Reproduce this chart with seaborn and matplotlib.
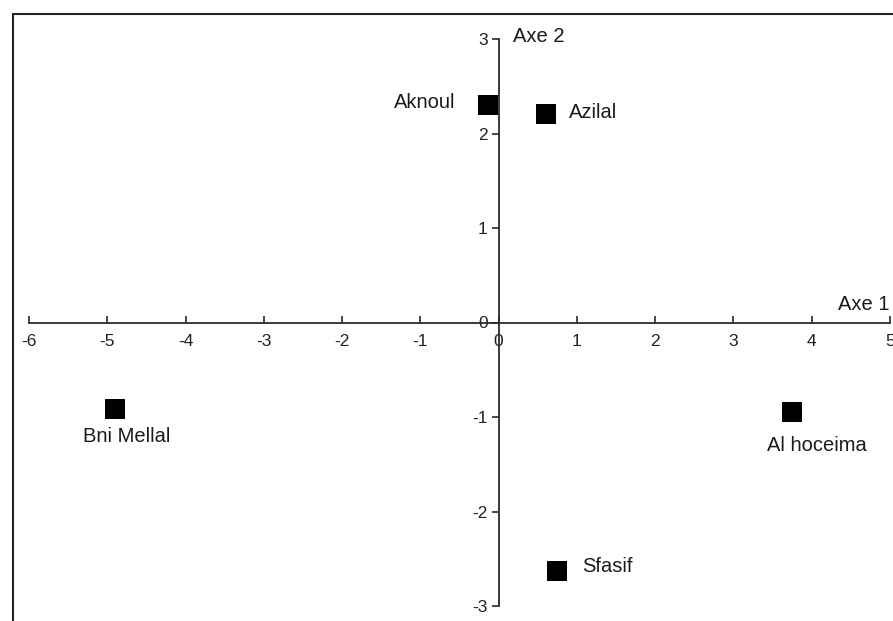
import matplotlib
matplotlib.use("Agg")
import matplotlib.pyplot as plt
from matplotlib.lines import Line2D
import pandas as pd
import seaborn as sns

# factor scores
sites = ['Aknoul', 'Azilal', 'Bni Mellal', 'Al hoceima', 'Sfasif']
axe1 = [-0.14, 0.61, -4.90, 3.75, 0.75]
axe2 = [2.30, 2.21, -0.92, -0.95, -2.63]
x_ticks = [-6, -5, -4, -3, -2, -1, 0, 1, 2, 3, 4, 5]
y_ticks = [-3, -2, -1, 0, 1, 2, 3]

df = pd.DataFrame({'site': sites, 'axe1': axe1, 'axe2': axe2})

sns.set_style('white')
plt.rcParams['font.family'] = ['Liberation Sans', 'DejaVu Sans']
plt.rcParams['axes.unicode_minus'] = False

fig = plt.figure(figsize=(8.93, 6.21), dpi=100)
ax = fig.add_axes([29 / 893, 15 / 621, (890 - 29) / 893, (606 - 39) / 621])

sns.scatterplot(data=df, x='axe1', y='axe2', marker='s', s=210,
                color='black', edgecolor='black', linewidth=0, ax=ax, zorder=3)

ax.set_xlim(-6, 5)
ax.set_ylim(-3, 3)
ax.set_xticks(x_ticks)
ax.set_yticks(y_ticks)
ax.set_xlabel('')
ax.set_ylabel('')

for side in ['top', 'right']:
    ax.spines[side].set_visible(False)
for side in ['left', 'bottom']:
    ax.spines[side].set_position(('data', 0))
    ax.spines[side].set_color('#2a2a2a')
    ax.spines[side].set_linewidth(1.3)

ax.tick_params(axis='x', direction='in', length=5, width=1.2, color='#2a2a2a',
               labelsize=12.5, labelcolor='#222222', pad=8)
ax.tick_params(axis='y', direction='out', length=5, width=1.2, color='#2a2a2a',
               labelsize=12.5, labelcolor='#222222', pad=3)
ax.tick_params(bottom=True, left=True)

# point labels
offsets = {
    'Aknoul': (-23, 2, 'right', 'center'),
    'Azilal': (16, 1, 'left', 'center'),
    'Bni Mellal': (8, -13, 'center', 'top'),
    'Al hoceima': (18, -17, 'center', 'top'),
    'Sfasif': (18, 3, 'left', 'center'),
}
for name, x, y in zip(sites, axe1, axe2):
    dx, dy, ha, va = offsets[name]
    ax.annotate(name, (x, y), xytext=(dx, dy), textcoords='offset points',
                ha=ha, va=va, fontsize=14.5, color='#1a1a1a')

ax.annotate('Axe 1', (5, 0), xytext=(0, 6), textcoords='offset points',
            ha='right', va='bottom', fontsize=14.5, color='#1a1a1a')
ax.annotate('Axe 2', (0, 3), xytext=(10, 2), textcoords='offset points',
            ha='left', va='center', fontsize=14.5, color='#1a1a1a')

# outer frame (cut at right and bottom)
fig.add_artist(Line2D([13 / 893, 1.0], [1 - 14 / 621, 1 - 14 / 621],
                      transform=fig.transFigure, color='#222222', linewidth=1.5))
fig.add_artist(Line2D([13 / 893, 13 / 893], [0.0, 1 - 14 / 621],
                      transform=fig.transFigure, color='#222222', linewidth=1.5))

fig.savefig('out.png', dpi=100)
